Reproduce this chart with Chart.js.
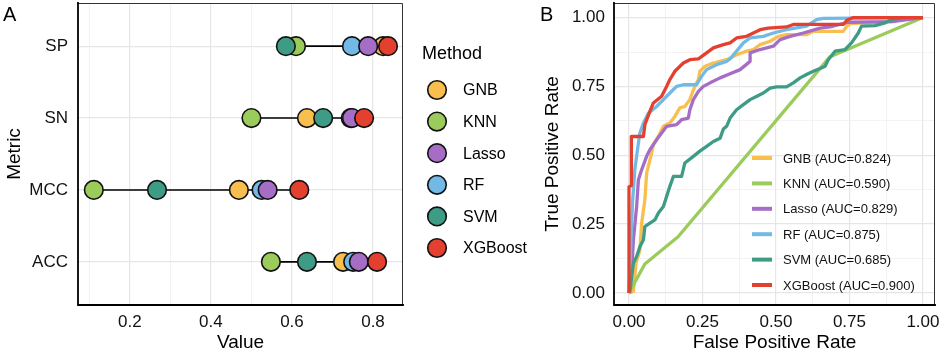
<!DOCTYPE html>
<html><head><meta charset="utf-8">
<script src="https://cdn.jsdelivr.net/npm/chart.js@4"></script>
<style>
html,body{margin:0;padding:0;background:#fff;}
#wrap{position:relative;width:941px;height:354px;overflow:hidden;background:#fff;}
#pa{position:absolute;left:0;top:0;width:535px;height:354px;}
#pb{position:absolute;left:535px;top:0;width:406px;height:354px;}
canvas{display:block;}
</style></head><body>
<div id="wrap">
<div id="pa"><canvas id="ca" width="535" height="354"></canvas></div>
<div id="pb"><canvas id="cb" width="406" height="354"></canvas></div>
</div>
<script>
// ---------- data ----------
const methods = ['GNB', 'KNN', 'Lasso', 'RF', 'SVM', 'XGBoost'];
const methodColors = ['#F8BF4E', '#9BCB5B', '#A66DC7', '#73B9E6', '#3E9B86', '#E4402F'];
const metrics = ['SP', 'SN', 'MCC', 'ACC'];           // top to bottom
// scores in metric order SP, SN, MCC, ACC
const gnbScores   = [0.825, 0.637, 0.469, 0.726];
const knnScores   = [0.610, 0.500, 0.111, 0.548];
const lassoScores = [0.788, 0.748, 0.540, 0.765];
const rfScores    = [0.748, 0.745, 0.525, 0.751];
const svmScores   = [0.585, 0.677, 0.267, 0.637];
const xgbScores   = [0.837, 0.778, 0.618, 0.810];
const valueMajorTicks = [0.2, 0.4, 0.6, 0.8];
const valueMinorTicks = [0.1, 0.3, 0.5, 0.7];

const aucValues = ['0.824', '0.590', '0.829', '0.875', '0.685', '0.900'];
const gnbFpr = [0, 0.015, 0.024, 0.037, 0.043, 0.054, 0.060, 0.077, 0.083, 0.100, 0.117, 0.139, 0.156, 0.173, 0.190, 0.207, 0.213, 0.224, 0.236, 0.241, 0.259, 0.287, 0.310, 0.332, 0.366, 0.400, 0.423, 0.446, 0.480, 0.508, 0.536, 0.604, 0.627, 0.729, 0.741, 0.752, 0.894, 0.928, 1];
const gnbTpr = [0, 0.005, 0.108, 0.156, 0.253, 0.338, 0.435, 0.508, 0.540, 0.568, 0.605, 0.617, 0.641, 0.672, 0.677, 0.702, 0.720, 0.750, 0.775, 0.805, 0.823, 0.835, 0.841, 0.847, 0.865, 0.878, 0.884, 0.902, 0.914, 0.932, 0.938, 0.938, 0.950, 0.950, 0.969, 0.978, 0.985, 0.993, 1];
const knnFpr = [0, 0.054, 0.167, 0.684, 1];
const knnTpr = [0, 0.105, 0.204, 0.858, 1];
const lassoFpr = [0, 0.009, 0.015, 0.026, 0.032, 0.043, 0.060, 0.071, 0.094, 0.111, 0.128, 0.162, 0.179, 0.202, 0.207, 0.219, 0.236, 0.253, 0.276, 0.310, 0.344, 0.378, 0.412, 0.412, 0.446, 0.491, 0.514, 0.548, 0.593, 0.650, 0.684, 0.746, 0.894, 1];
const lassoTpr = [0, 0.072, 0.193, 0.314, 0.411, 0.447, 0.496, 0.520, 0.556, 0.581, 0.605, 0.611, 0.629, 0.635, 0.665, 0.702, 0.732, 0.750, 0.763, 0.781, 0.796, 0.811, 0.841, 0.872, 0.884, 0.896, 0.920, 0.932, 0.944, 0.962, 0.966, 0.983, 0.985, 1];
const rfFpr = [0, 0.007, 0.012, 0.020, 0.032, 0.037, 0.049, 0.066, 0.094, 0.117, 0.139, 0.162, 0.185, 0.230, 0.247, 0.264, 0.298, 0.332, 0.344, 0.366, 0.389, 0.412, 0.457, 0.491, 0.536, 0.604, 0.638, 0.661, 1];
const rfTpr = [0, 0.200, 0.330, 0.450, 0.544, 0.581, 0.617, 0.653, 0.677, 0.702, 0.726, 0.750, 0.756, 0.756, 0.787, 0.811, 0.829, 0.841, 0.850, 0.878, 0.908, 0.926, 0.932, 0.944, 0.956, 0.969, 0.993, 0.997, 1];
const svmFpr = [0, 0.003, 0.015, 0.026, 0.037, 0.049, 0.054, 0.071, 0.088, 0.100, 0.117, 0.139, 0.151, 0.179, 0.190, 0.219, 0.241, 0.264, 0.287, 0.310, 0.321, 0.332, 0.344, 0.366, 0.389, 0.412, 0.435, 0.457, 0.480, 0.502, 0.536, 0.559, 0.582, 0.604, 0.627, 0.650, 0.667, 0.678, 0.701, 0.735, 0.757, 0.780, 0.791, 0.837, 0.871, 0.894, 0.928, 1];
const svmTpr = [0, 0.005, 0.108, 0.132, 0.168, 0.193, 0.241, 0.253, 0.265, 0.290, 0.314, 0.387, 0.423, 0.423, 0.472, 0.496, 0.515, 0.532, 0.550, 0.562, 0.595, 0.605, 0.635, 0.665, 0.684, 0.702, 0.714, 0.726, 0.744, 0.748, 0.748, 0.763, 0.781, 0.793, 0.805, 0.815, 0.823, 0.847, 0.878, 0.884, 0.908, 0.944, 0.969, 0.971, 0.981, 0.993, 0.999, 1];
const xgbFpr = [0, 0, 0.008, 0.008, 0.049, 0.054, 0.071, 0.083, 0.111, 0.128, 0.139, 0.156, 0.185, 0.207, 0.236, 0.264, 0.287, 0.321, 0.344, 0.366, 0.400, 0.423, 0.446, 0.474, 0.536, 0.559, 0.729, 0.741, 0.763, 1];
const xgbTpr = [0, 0.385, 0.390, 0.568, 0.568, 0.611, 0.659, 0.690, 0.714, 0.750, 0.775, 0.805, 0.835, 0.847, 0.850, 0.872, 0.890, 0.902, 0.908, 0.926, 0.932, 0.944, 0.956, 0.962, 0.966, 0.975, 0.975, 0.990, 1, 1];
const rateMajorTicks = [0, 0.25, 0.5, 0.75, 1];
const rateMinorTicks = [0.125, 0.375, 0.625, 0.875];

// ---------- helpers ----------
const FONT = "'Liberation Sans', Arial, Helvetica, sans-serif";
const allScores = [gnbScores, knnScores, lassoScores, rfScores, svmScores, xgbScores];
const allFpr = [gnbFpr, knnFpr, lassoFpr, rfFpr, svmFpr, xgbFpr];
const allTpr = [gnbTpr, knnTpr, lassoTpr, rfTpr, svmTpr, xgbTpr];
const metricY = i => metrics.length - i;   // SP top
const GRID_MAJOR = '#e6e6e6', GRID_MINOR = '#f0f0f0';

function fixTicks(values) {
  return function (scale) { scale.ticks = values.slice().sort((a, b) => a - b).map(v => ({ value: v })); };
}
function isIn(arr, v) { return arr.some(a => Math.abs(a - v) < 1e-9); }
function fixSize(w, h) {
  return function (s) {
    if (w !== null) s.width = w;
    if (h !== null) s.height = h;
    s.paddingTop = 0; s.paddingBottom = 0; s.paddingLeft = 0; s.paddingRight = 0;
  };
}

const frame = {
  id: 'frame',
  afterDraw(chart) {
    const { ctx, chartArea: a } = chart;
    ctx.save();
    ctx.lineCap = 'square';
    ctx.strokeStyle = '#333';
    ctx.lineWidth = 1;
    ctx.beginPath();
    ctx.moveTo(a.left, a.top + 0.5); ctx.lineTo(a.right - 0.5, a.top + 0.5); ctx.lineTo(a.right - 0.5, a.bottom);
    ctx.stroke();
    ctx.strokeStyle = '#000';
    ctx.lineWidth = 1.8;
    ctx.beginPath();
    ctx.moveTo(a.left, a.top); ctx.lineTo(a.left, a.bottom); ctx.lineTo(a.right, a.bottom);
    ctx.stroke();
    ctx.restore();
  }
};

// ---------- panel A ----------
const segDatasets = metrics.map((m, i) => {
  const vals = allScores.map(s => s[i]);
  return {
    type: 'line', label: 'seg-' + m,
    data: [{ x: Math.min(...vals), y: metricY(i) }, { x: Math.max(...vals), y: metricY(i) }],
    borderColor: '#000', borderWidth: 1.6, pointRadius: 0, order: 20, showLine: true
  };
});
const drawOrderA = { GNB: 5, KNN: 4, RF: 3, Lasso: 2, SVM: 1, XGBoost: 0 };
const dotDatasets = methods.map((m, k) => ({
  type: 'scatter', label: m,
  data: metrics.map((mm, i) => ({ x: allScores[k][i], y: metricY(i) })),
  backgroundColor: methodColors[k], borderColor: '#111', borderWidth: 1.6,
  pointRadius: 9.3, pointHoverRadius: 9.3, order: drawOrderA[m]
}));

const legendA = {
  id: 'legendA',
  afterDraw(chart) {
    const ctx = chart.ctx;
    ctx.save();
    ctx.fillStyle = '#000';
    ctx.textBaseline = 'middle';
    ctx.textAlign = 'left';
    ctx.font = '18px ' + FONT;
    ctx.fillText('Method', 422, 54);
    ctx.font = '16px ' + FONT;
    methods.forEach((m, k) => {
      const y = 90 + k * 31.6;
      ctx.beginPath();
      ctx.arc(437, y, 9.3, 0, Math.PI * 2);
      ctx.fillStyle = methodColors[k];
      ctx.fill();
      ctx.lineWidth = 1.6; ctx.strokeStyle = '#111';
      ctx.stroke();
      ctx.fillStyle = '#000';
      ctx.fillText(m, 463, y + 1);
    });
    ctx.font = '20px ' + FONT;
    ctx.fillText('A', 3, 15);
    ctx.restore();
  }
};

new Chart(document.getElementById('ca'), {
  type: 'scatter',
  data: { datasets: [...segDatasets, ...dotDatasets] },
  options: {
    responsive: false, animation: false, events: [],
    layout: { autoPadding: false, padding: { left: 0, right: 132, top: 3, bottom: 0 } },
    plugins: { legend: { display: false }, tooltip: { enabled: false } },
    scales: {
      x: {
        type: 'linear', min: 0.072, max: 0.874,
        afterBuildTicks: fixTicks([...valueMajorTicks, ...valueMinorTicks]),
        afterFit: fixSize(null, 49),
        grid: {
          drawTicks: false,
          color: c => isIn(valueMajorTicks, c.tick.value) ? GRID_MAJOR : GRID_MINOR,
          lineWidth: c => isIn(valueMajorTicks, c.tick.value) ? 1.2 : 0.8
        },
        border: { display: false },
        ticks: {
          autoSkip: false, maxRotation: 0, padding: 7, color: '#111',
          font: { family: FONT, size: 17 },
          callback: v => isIn(valueMajorTicks, v) ? v.toFixed(1) : ''
        },
        title: { display: true, text: 'Value', color: '#000', font: { family: FONT, size: 19 }, padding: { top: 0, bottom: 0 } }
      },
      y: {
        type: 'linear', min: 0.4, max: 4.6,
        afterBuildTicks: fixTicks(metrics.map((m, i) => metricY(i))),
        afterFit: fixSize(78, null),
        grid: { drawTicks: false, color: GRID_MAJOR, lineWidth: 1.2 },
        border: { display: false },
        ticks: {
          autoSkip: false, padding: 10, color: '#111',
          font: { family: FONT, size: 17 },
          callback: v => metrics[metrics.length - Math.round(v)]
        },
        title: { display: true, text: 'Metric', color: '#000', font: { family: FONT, size: 19 }, padding: { top: 3, bottom: 0 } }
      }
    }
  },
  plugins: [frame, legendA]
});

// ---------- panel B ----------
const rocDatasets = methods.map((m, k) => ({
  type: 'line', label: m + ' (AUC=' + aucValues[k] + ')',
  data: allFpr[k].map((f, i) => ({ x: f, y: allTpr[k][i] })),
  borderColor: methodColors[k], borderWidth: 3.3, pointRadius: 0, tension: 0,
  borderJoinStyle: 'round', fill: false, order: methods.length - 1 - k
}));

const legendB = {
  id: 'legendB',
  afterDraw(chart) {
    const ctx = chart.ctx;
    ctx.save();
    ctx.textBaseline = 'middle';
    ctx.textAlign = 'left';
    ctx.font = '13px ' + FONT;
    chart.data.datasets.forEach((d, k) => {
      const y = 158 + k * 25.4;
      ctx.strokeStyle = d.borderColor;
      ctx.lineWidth = 4;
      ctx.beginPath(); ctx.moveTo(217, y); ctx.lineTo(237, y); ctx.stroke();
      ctx.fillStyle = '#111';
      ctx.fillText(d.label, 248, y + 1);
    });
    ctx.fillStyle = '#000';
    ctx.font = '20px ' + FONT;
    ctx.fillText('B', 5, 15);
    ctx.restore();
  }
};

new Chart(document.getElementById('cb'), {
  type: 'line',
  data: { datasets: rocDatasets },
  options: {
    responsive: false, animation: false, events: [],
    layout: { autoPadding: false, padding: { left: 0, right: 6, top: 3, bottom: 0 } },
    plugins: { legend: { display: false }, tooltip: { enabled: false } },
    scales: {
      x: {
        type: 'linear', min: -0.051, max: 1.041,
        afterBuildTicks: fixTicks([...rateMajorTicks, ...rateMinorTicks]),
        afterFit: fixSize(null, 49),
        grid: {
          drawTicks: false,
          color: c => isIn(rateMajorTicks, c.tick.value) ? GRID_MAJOR : GRID_MINOR,
          lineWidth: c => isIn(rateMajorTicks, c.tick.value) ? 1.2 : 0.8
        },
        border: { display: false },
        ticks: {
          autoSkip: false, maxRotation: 0, padding: 7, color: '#111',
          font: { family: FONT, size: 17 },
          callback: v => isIn(rateMajorTicks, v) ? v.toFixed(2) : ''
        },
        title: { display: true, text: 'False Positive Rate', color: '#000', font: { family: FONT, size: 19 }, padding: { top: 0, bottom: 0 } }
      },
      y: {
        type: 'linear', min: -0.044, max: 1.053,
        afterBuildTicks: fixTicks([...rateMajorTicks, ...rateMinorTicks]),
        afterFit: fixSize(79, null),
        grid: {
          drawTicks: false,
          color: c => isIn(rateMajorTicks, c.tick.value) ? GRID_MAJOR : GRID_MINOR,
          lineWidth: c => isIn(rateMajorTicks, c.tick.value) ? 1.2 : 0.8
        },
        border: { display: false },
        ticks: {
          autoSkip: false, padding: 9, color: '#111',
          font: { family: FONT, size: 17 },
          callback: v => isIn(rateMajorTicks, v) ? v.toFixed(2) : ''
        },
        title: { display: true, text: 'True Positive Rate', color: '#000', font: { family: FONT, size: 19 }, padding: { top: 6, bottom: 0 } }
      }
    }
  },
  plugins: [frame, legendB]
});
</script>
</body></html>
